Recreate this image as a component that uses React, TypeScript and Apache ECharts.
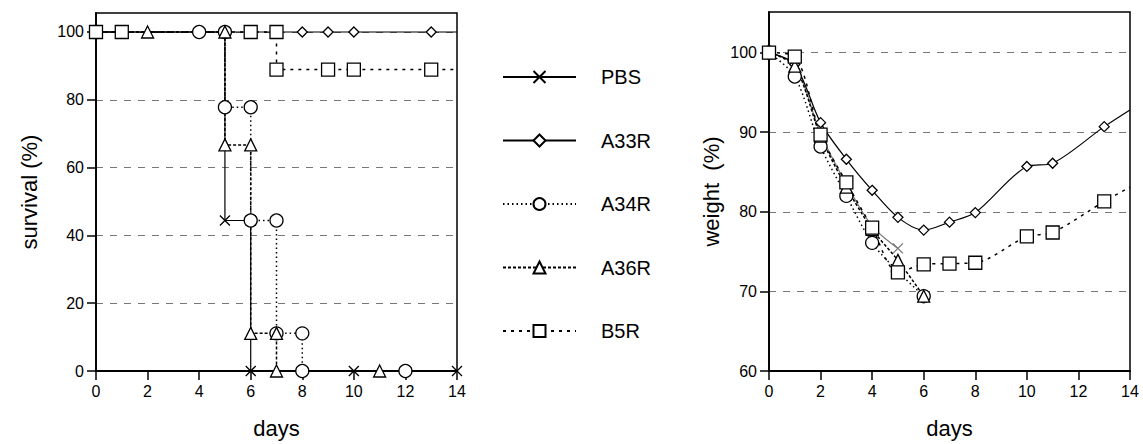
import React, { useEffect, useRef } from "react";
import * as echarts from "echarts";

// ---------- data ----------
const seriesNames = ["PBS", "A33R", "A34R", "A36R", "B5R"];

// survival (%) – corner points of the Kaplan–Meier steps
const survPBSDays = [0, 5, 5, 6, 6, 10, 14];
const survPBS = [100, 100, 44.4, 44.4, 0, 0, 0];
const survA33RDays = [0, 5, 6, 7, 8, 9, 10, 13, 14];
const survA33R = [100, 100, 100, 100, 100, 100, 100, 100, 100];
const survA34RDays = [0, 4, 5, 5, 6, 6, 7, 7, 8, 8, 12];
const survA34R = [100, 100, 100, 77.8, 77.8, 44.4, 44.4, 11.1, 11.1, 0, 0];
const survA36RDays = [0, 2, 5, 5, 6, 6, 7, 7, 11];
const survA36R = [100, 100, 100, 66.7, 66.7, 11.1, 11.1, 0, 0];
const survB5RDays = [0, 1, 6, 7, 7, 9, 10, 13, 14];
const survB5R = [100, 100, 100, 100, 88.9, 88.9, 88.9, 88.9, 88.9];
// series whose last point only continues the line (no marker)
const survLineOnlyLast = ["A33R", "B5R"];

// weight (%)
const weightDays = [0, 1, 2, 3, 4, 5, 6, 7, 8, 10, 11, 13];
const weightPBS = [100, 98.5, 89.8, 83.5, 78.2, 75.4];
const weightA33R = [100, 98.5, 91.2, 86.6, 82.7, 79.3, 77.7, 78.7, 79.9, 85.7, 86.1, 90.7];
const weightA34R = [100, 97.0, 88.2, 82.0, 76.1, 72.5, 69.4];
const weightA36R = [100, 98.3, 89.5, 83.1, 77.8, 73.9, 69.4];
const weightB5R = [100, 99.5, 89.7, 83.7, 78.0, 72.4, 73.4, 73.5, 73.6, 76.9, 77.4, 81.3];
// fitted curves continue to the end of the axis
const weightFitEndDay = 14;
const weightA33RFitEnd = 92.8;
const weightB5RFitEnd = 83.1;

// ticks
const dayTicks = [0, 2, 4, 6, 8, 10, 12, 14];
const survTicks = [0, 20, 40, 60, 80, 100];
const weightTicks = [60, 70, 80, 90, 100];

// ---------- helpers ----------
const pairs = (xs: number[], ys: number[], lineOnlyLast = false) =>
  xs.map((x, i) =>
    lineOnlyLast && i === xs.length - 1
      ? { value: [x, ys[i]], symbol: "none" }
      : { value: [x, ys[i]] }
  );

const FONT = "'Liberation Sans', Arial, Helvetica, sans-serif";
const CROSS = "path://M0,0L10,10M10,0L0,10";

const style: Record<string, any> = {
  PBS: { symbol: CROSS, size: 10, line: { type: "solid", width: 1.2 } },
  A33R: { symbol: "diamond", size: 10, line: { type: "solid", width: 1.2 } },
  A34R: { symbol: "circle", size: 13, line: { type: [1.5, 3], width: 1.5 } },
  A36R: { symbol: "triangle", size: 12, line: { type: [3, 2], width: 1.5 } },
  B5R: { symbol: "rect", size: 13, line: { type: [3, 5], width: 1.5 } },
};

function mkSeries(name: string, data: any[], grid: number, extra: any = {}) {
  const s = style[name];
  const col = extra.color || "#000";
  return {
    type: "line",
    name,
    xAxisIndex: grid,
    yAxisIndex: grid,
    data,
    symbol: s.symbol,
    symbolSize: extra.symbolSize || s.size,
    clip: false,
    smooth: extra.smooth || false,
    lineStyle: { color: col, width: s.line.width, type: s.line.type },
    itemStyle: { color: "#fff", borderColor: col, borderWidth: 1.3 },
    emphasis: { disabled: true },
    z: extra.z || 2,
  };
}

function xAxis(grid: number) {
  return {
    type: "value",
    gridIndex: grid,
    min: 0,
    max: 14,
    interval: 2,
    name: "days",
    nameLocation: "middle",
    nameGap: 46,
    nameTextStyle: { fontSize: 22, color: "#000", fontFamily: FONT },
    axisLine: { show: true, onZero: false, lineStyle: { color: "#000", width: 1.8 } },
    axisTick: { show: true, length: 9, lineStyle: { color: "#000", width: 1.5 }, customValues: dayTicks },
    axisLabel: { fontSize: 16, color: "#000", margin: 12, fontFamily: FONT, customValues: dayTicks },
    splitLine: { show: false },
  };
}

function yAxis(grid: number, min: number, max: number, interval: number, ticks: number[], name: string, gap: number) {
  return {
    type: "value",
    gridIndex: grid,
    min,
    max,
    interval,
    name,
    nameLocation: "middle",
    nameGap: gap,
    nameTextStyle: { fontSize: 22, color: "#000", fontFamily: FONT },
    axisLine: { show: true, onZero: false, lineStyle: { color: "#000", width: 1.8 } },
    axisTick: { show: true, length: 9, lineStyle: { color: "#000", width: 1.5 }, customValues: ticks },
    axisLabel: { fontSize: 16, color: "#000", margin: 12, fontFamily: FONT, customValues: ticks },
    splitLine: { show: true, lineStyle: { color: "#777", width: 1, type: [7, 7] } },
  };
}

export default function App() {
  const ref = useRef<HTMLDivElement>(null);
  useEffect(() => {
    document.body.style.margin = "0";
    const chart = echarts.init(ref.current!, undefined, { renderer: "svg" });
    const survData: Record<string, any[]> = {
      PBS: pairs(survPBSDays, survPBS, survLineOnlyLast.includes("PBS")),
      A33R: pairs(survA33RDays, survA33R, survLineOnlyLast.includes("A33R")),
      A34R: pairs(survA34RDays, survA34R, survLineOnlyLast.includes("A34R")),
      A36R: pairs(survA36RDays, survA36R, survLineOnlyLast.includes("A36R")),
      B5R: pairs(survB5RDays, survB5R, survLineOnlyLast.includes("B5R")),
    };
    const wData: Record<string, any[]> = {
      PBS: pairs(weightDays.slice(0, weightPBS.length), weightPBS),
      A33R: pairs([...weightDays, weightFitEndDay], [...weightA33R, weightA33RFitEnd], true),
      A34R: pairs(weightDays.slice(0, weightA34R.length), weightA34R),
      A36R: pairs(weightDays.slice(0, weightA36R.length), weightA36R),
      B5R: pairs([...weightDays, weightFitEndDay], [...weightB5R, weightB5RFitEnd], true),
    };
    const series: any[] = [];
    seriesNames.forEach((n) => series.push(mkSeries(n, survData[n], 0)));
    seriesNames.forEach((n) =>
      series.push(
        mkSeries(n, wData[n], 1, {
          smooth: 0.3,
          color: n === "PBS" ? "#777" : "#000",
        })
      )
    );
    chart.setOption({
      animation: false,
      textStyle: { fontFamily: FONT },
      grid: [
        { left: 96, top: 13, width: 361, height: 360, show: true, borderColor: "#000", borderWidth: 1.5, backgroundColor: "transparent" },
        { left: 769, top: 12, width: 361, height: 360, show: true, borderColor: "#000", borderWidth: 1.5, backgroundColor: "transparent" },
      ],
      xAxis: [xAxis(0), xAxis(1)],
      yAxis: [
        yAxis(0, 0, 105.6, 20, survTicks, "survival (%)", 56),
        yAxis(1, 60, 105.1, 10, weightTicks, "weight  (%)", 47),
      ],
      legend: {
        orient: "vertical",
        left: 497,
        top: 62,
        itemWidth: 73,
        itemHeight: 15,
        itemGap: 43.5,
        selectedMode: false,
        data: seriesNames,
        textStyle: { fontSize: 20, color: "#000", fontFamily: FONT, padding: [0, 0, 0, 20] },
      },
      series,
    });
    return () => chart.dispose();
  }, []);
  return <div ref={ref} style={{ width: 1143, height: 444 }} />;
}
